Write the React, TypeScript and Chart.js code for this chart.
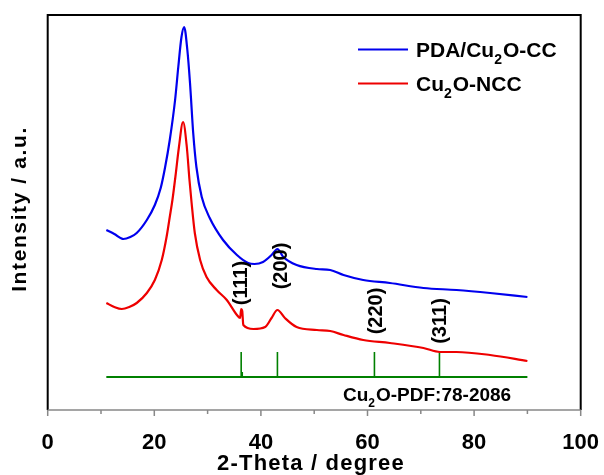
import React, { useEffect, useRef } from "react";
import { Chart, registerables } from "chart.js";
Chart.register(...registerables);

// 2-Theta positions and intensities (a.u.)
const blueTheta = [11, 12.5, 14.2, 15.5, 16.7, 18.6, 20.1, 21.2, 22.0, 22.9, 23.9, 24.5, 25.1, 25.6, 26.2, 26.7, 27.3, 27.9, 28.9, 30.4, 32.9, 35.5, 37.6, 38.8, 40.4, 42, 43.1, 44.2, 46.7, 50.5, 53, 55.5, 59.2, 64.2, 70.5, 76.7, 83, 90];
const blueInt = [180, 176, 171, 173, 177, 190, 205, 222, 242, 270, 310, 343, 373, 383, 360, 327, 277, 243, 213, 192, 170, 155, 147, 146, 148, 155, 161, 153, 145, 141, 140, 135, 130, 127, 122, 120, 117, 113];

const redTheta = [11, 12.5, 13.9, 15.3, 16.7, 18.6, 20.1, 21.4, 22.3, 22.9, 23.4, 24.0, 24.6, 25.4, 26.1, 26.6, 27.0, 27.6, 28.6, 29.8, 31.7, 33.6, 35.5, 36.1, 36.3, 36.5, 36.7, 38.6, 40.8, 42, 43.1, 44.5, 46.7, 50.5, 53, 55.5, 59.2, 64.2, 70.5, 73.6, 76.7, 83, 90];
const redInt = [107, 103, 101, 103, 107, 117, 130, 150, 173, 193, 210, 235, 262, 288, 263, 230, 207, 177, 150, 133, 120, 110, 95, 92, 101, 99, 85, 81, 83, 92, 100, 92, 83, 80, 79, 75, 70, 67, 62, 58, 58, 55, 49];

// Reference pattern (PDF 78-2086)
const pdfBaseRange = [11, 90];
const pdfBase = 33;
const pdfTheta = [36.3, 36.5, 43.1, 61.3, 73.5];
const pdfTop = [58, 38, 58, 58, 58];

// Miller index labels
const hklText = ["(111)", "(200)", "(220)", "(311)"];
const hklTheta = [36.4, 43.9, 61.7, 73.6];
const hklInt = [127, 144, 99, 89];

const xTicks = [0, 20, 40, 60, 80, 100];

const FONT = '"Liberation Sans", Arial, sans-serif';

function drawRich(ctx: CanvasRenderingContext2D, parts: [string, boolean][], x: number, y: number, size: number) {
  let cx = x;
  for (const [t, sub] of parts) {
    const s = sub ? Math.round(size * 0.65) : size;
    ctx.font = `bold ${s}px ${FONT}`;
    ctx.fillText(t, cx, sub ? y + size * 0.32 : y);
    cx += ctx.measureText(t).width + (sub ? 1 : 0);
  }
}

export default function App() {
  const ref = useRef<HTMLCanvasElement>(null);
  useEffect(() => {
    document.body.style.margin = "0";
    const canvas = ref.current!;
    const datasets: any[] = [
      {
        label: "PDA/Cu2O-CC",
        data: blueTheta.map((x, i) => ({ x, y: blueInt[i] })),
        borderColor: "#0000ee",
        borderWidth: 2.2,
        pointRadius: 0,
        showLine: true,
        cubicInterpolationMode: "monotone",
      },
      {
        label: "Cu2O-NCC",
        data: redTheta.map((x, i) => ({ x, y: redInt[i] })),
        borderColor: "#ee0000",
        borderWidth: 2.2,
        pointRadius: 0,
        showLine: true,
        cubicInterpolationMode: "monotone",
      },
      {
        label: "pdf-base",
        data: pdfBaseRange.map((x) => ({ x, y: pdfBase })),
        borderColor: "#008000",
        borderWidth: 2,
        pointRadius: 0,
        showLine: true,
      },
    ];
    pdfTheta.forEach((t, i) => {
      datasets.push({
        label: "pdf-" + i,
        data: [
          { x: t, y: pdfBase },
          { x: t, y: pdfTop[i] },
        ],
        borderColor: "#008000",
        borderWidth: 1.6,
        pointRadius: 0,
        showLine: true,
      });
    });

    const overlay = {
      id: "overlay",
      afterDraw(chart: any) {
        const ctx = chart.ctx as CanvasRenderingContext2D;
        const { left, right, top, bottom } = chart.chartArea;
        const xs = chart.scales.x;
        const ys = chart.scales.y;
        ctx.save();
        // frame
        ctx.strokeStyle = "#000";
        ctx.lineWidth = 2;
        ctx.beginPath();
        ctx.moveTo(left, bottom);
        ctx.lineTo(left, top);
        ctx.lineTo(right, top);
        ctx.lineTo(right, bottom);
        ctx.stroke();
        ctx.strokeStyle = "#888";
        ctx.lineWidth = 1.5;
        ctx.beginPath();
        ctx.moveTo(left, bottom);
        ctx.lineTo(right, bottom);
        for (let v = 0; v <= 100; v += 10) {
          const px = xs.getPixelForValue(v);
          ctx.moveTo(px, bottom);
          ctx.lineTo(px, bottom + (v % 20 === 0 ? 6 : 4));
        }
        ctx.stroke();

        ctx.fillStyle = "#000";
        // axis titles
        ctx.textAlign = "center";
        ctx.textBaseline = "alphabetic";
        (ctx as any).letterSpacing = "1.2px";
        ctx.font = `bold 22px ${FONT}`;
        ctx.fillText("2-Theta / degree", 311, 470);
        ctx.save();
        ctx.translate(26, 209);
        ctx.rotate(-Math.PI / 2);
        (ctx as any).letterSpacing = "1.6px";
        ctx.font = `bold 21px ${FONT}`;
        ctx.fillText("Intensity / a.u.", 0, 0);
        ctx.restore();
        (ctx as any).letterSpacing = "0px";

        // hkl labels
        ctx.font = `bold 20px ${FONT}`;
        ctx.textBaseline = "middle";
        hklText.forEach((t, i) => {
          ctx.save();
          ctx.translate(xs.getPixelForValue(hklTheta[i]), ys.getPixelForValue(hklInt[i]));
          ctx.rotate(-Math.PI / 2);
          ctx.fillText(t, 0, 0);
          ctx.restore();
        });

        // PDF label
        ctx.textAlign = "left";
        ctx.textBaseline = "alphabetic";
        drawRich(ctx, [["Cu", false], ["2", true], ["O-PDF:78-2086", false]], 343, 401, 19);

        // legend
        ctx.lineWidth = 2;
        ctx.strokeStyle = "#0000ee";
        ctx.beginPath();
        ctx.moveTo(358, 49.5);
        ctx.lineTo(408, 49.5);
        ctx.stroke();
        ctx.strokeStyle = "#ee0000";
        ctx.beginPath();
        ctx.moveTo(358, 83.5);
        ctx.lineTo(408, 83.5);
        ctx.stroke();
        drawRich(ctx, [["PDA/Cu", false], ["2", true], ["O-CC", false]], 416, 57, 21);
        drawRich(ctx, [["Cu", false], ["2", true], ["O-NCC", false]], 416, 91, 21);
        ctx.restore();
      },
    };

    const chart = new Chart(canvas, {
      type: "scatter",
      data: { datasets },
      options: {
        animation: false,
        responsive: false,
        devicePixelRatio: 1,
        layout: { padding: { left: 47.7, right: 23.3, top: 15, bottom: 0 } },
        plugins: { legend: { display: false }, tooltip: { enabled: false } },
        scales: {
          x: {
            type: "linear",
            min: 0,
            max: 100,
            afterBuildTicks: (s: any) => {
              s.ticks = xTicks.map((v) => ({ value: v }));
            },
            ticks: {
              color: "#000",
              font: { family: FONT, size: 22, weight: "bold" },
              padding: 12,
              maxRotation: 0,
            },
            grid: { display: false },
            border: { display: false },
            afterFit: (s: any) => {
              s.height = 65;
              s.paddingLeft = 0;
              s.paddingRight = 0;
            },
          },
          y: { display: false, min: 0, max: 395 },
        },
      },
      plugins: [overlay],
    });
    return () => chart.destroy();
  }, []);
  return <canvas ref={ref} width={604} height={475} style={{ display: "block" }} />;
}
